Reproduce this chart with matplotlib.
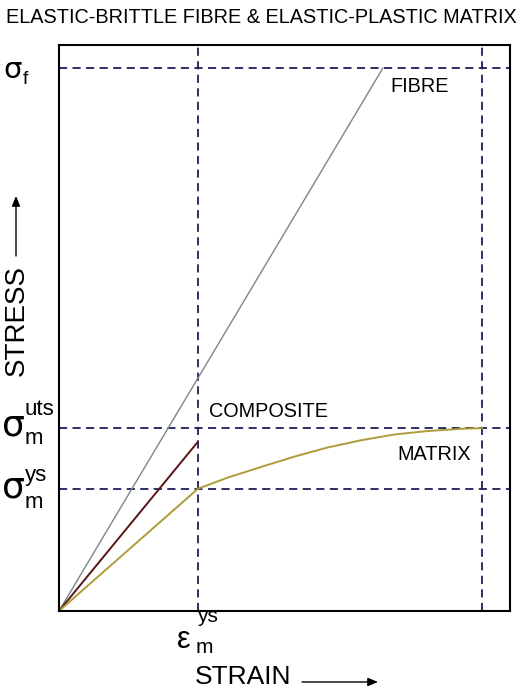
import matplotlib
matplotlib.use("Agg")
import matplotlib.pyplot as plt
from matplotlib.patches import FancyArrowPatch

W, H = 525, 690

# Data (normalised strain / stress)
eps_ys = 0.308
eps_uts = 0.938
eps_fibre = 0.718
sig_f = 0.959
sig_uts = 0.323
sig_ys = 0.216
sig_comp = 0.299

fibre_x = [0.0, eps_fibre]
fibre_y = [0.0, sig_f]
comp_x = [0.0, eps_ys]
comp_y = [0.0, sig_comp]
matrix_x = [0.0, 0.308, 0.375, 0.450, 0.523, 0.596, 0.672, 0.745, 0.818, 0.894, 0.938]
matrix_y = [0.0, 0.216, 0.236, 0.255, 0.273, 0.289, 0.302, 0.312, 0.318, 0.322, 0.323]

plt.rcParams['font.family'] = ['Liberation Sans', 'DejaVu Sans']

fig = plt.figure(figsize=(W / 100, H / 100), dpi=100)

def fx(px):
    return px / W

def fy(py):
    return 1 - py / H

def ptext(x, y, s, size, **kw):
    kw.setdefault('ha', 'left')
    kw.setdefault('va', 'baseline')
    fig.text(fx(x), fy(y), s, fontsize=size, **kw)

ax_l, ax_r, ax_t, ax_b = 59, 510, 45, 611
ax = fig.add_axes([fx(ax_l), fy(ax_b), (ax_r - ax_l) / W, (ax_b - ax_t) / H])
ax.set_xlim(0, 1)
ax.set_ylim(0, 1)
ax.set_xticks([])
ax.set_yticks([])
for s in ax.spines.values():
    s.set_linewidth(1.5)
    s.set_color('black')

dash_c = '#1e1e5c'
dkw = dict(color=dash_c, lw=1.3, dashes=(4.5, 3))
ax.axhline(sig_f, **dkw)
ax.axhline(sig_uts, **dkw)
ax.axhline(sig_ys, **dkw)
ax.axvline(eps_ys, **dkw)
ax.axvline(eps_uts, **dkw)

ax.plot(fibre_x, fibre_y, color='#7a8888', lw=1.0)
ax.plot(comp_x, comp_y, color='#5a1418', lw=1.4)
ax.plot(matrix_x, matrix_y, color='#ad9c3a', lw=1.4)

# Curve labels
ptext(390, 92, 'FIBRE', 14.3)
ptext(209, 417, 'COMPOSITE', 14.3)
ptext(397, 460, 'MATRIX', 14.3)

# Title
ptext(261, 23, 'ELASTIC-BRITTLE FIBRE & ELASTIC-PLASTIC MATRIX', 14.3, ha='center')

sig_font = ['DejaVu Sans']

# Stress symbols
ptext(3, 78, 'σ', 21, family=sig_font)
ptext(23, 84, 'f', 14)

ptext(2, 436, 'σ', 26, family=sig_font)
ptext(25, 415, 'uts', 16)
ptext(25, 444, 'm', 16)

ptext(2, 498, 'σ', 26, family=sig_font)
ptext(25, 481, 'ys', 16)
ptext(25, 508, 'm', 16)

# Strain symbol
ptext(177, 648, 'ε', 22)
ptext(197, 622, 'ys', 15)
ptext(196, 653, 'm', 15)

# Axis labels with arrows
fig.text(fx(17), fy(321), 'STRESS', fontsize=20, rotation=90, ha='center', va='center')
fig.patches.append(FancyArrowPatch(
    (fx(16), fy(256)), (fx(16), fy(196)), transform=fig.transFigure,
    arrowstyle='-|>,head_length=6,head_width=2.5', color='black', lw=1.0,
    shrinkA=0, shrinkB=0))

fig.text(fx(195), fy(677), 'STRAIN', fontsize=19, ha='left', va='center')
fig.patches.append(FancyArrowPatch(
    (fx(302), fy(682)), (fx(378), fy(682)), transform=fig.transFigure,
    arrowstyle='-|>,head_length=6,head_width=2.5', color='black', lw=1.0,
    shrinkA=0, shrinkB=0))

fig.savefig('out.png', dpi=100, facecolor='white')
